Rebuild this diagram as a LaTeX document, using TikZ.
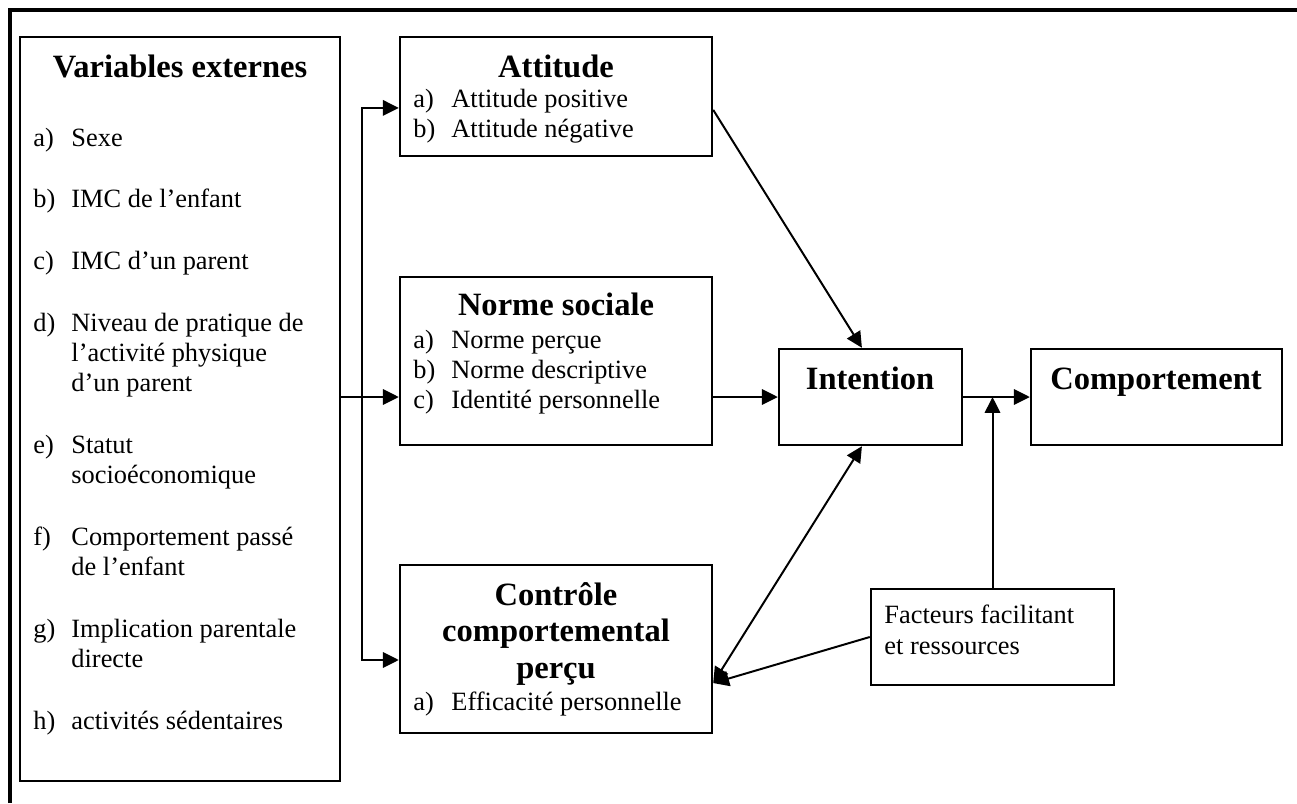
\documentclass[tikz,border=0pt]{standalone}
\usepackage{fontspec}
\setmainfont{Liberation Serif}
\usetikzlibrary{arrows.meta,fit}

\begin{document}
\begin{tikzpicture}[x=0.455pt,y=-0.455pt,
  >={Triangle[length=7.2pt,width=7pt]},
  box/.style={draw,line width=1.1pt,inner sep=0pt},
  ttl/.style={inner sep=0pt,anchor=base,align=center,font=\bfseries\fontsize{14.8}{16.4}\selectfont},
  lst/.style={inner sep=0pt,anchor=base west,font=\fontsize{12}{13.65}\selectfont},
  arr/.style={->,line width=0.9pt}]
\useasboundingbox (0,0) rectangle (1297,803);
\draw[line width=1.8pt] (10,803) -- (10,10) -- (1297,10);

\node[box,fit={(20,37) (340,781)}] (vars) {};
\node[box,fit={(400,37) (712,156)}] (att) {};
\node[box,fit={(400,277) (712,445)}] (norme) {};
\node[box,fit={(400,565) (712,733)}] (ctrl) {};
\node[box,fit={(779,349) (962,445)}] (inten) {};
\node[box,fit={(1031,349) (1282,445)}] (comp) {};
\node[box,fit={(871,589) (1114,685)}] (fact) {};

\node[ttl] (vars-t) at (180,78) {Variables externes};
\node[lst] (vars-l) at (33,146) {\begin{tabular}[t]{@{}p{17.3pt}@{}l@{}}
a) & Sexe\\[14.5pt]
b) & IMC de l’enfant\\[14.5pt]
c) & IMC d’un parent\\[14.5pt]
d) & Niveau de pratique de\\
   & l’activité physique\\
   & d’un parent\\[14.5pt]
e) & Statut\\
   & socioéconomique\\[14.5pt]
f) & Comportement passé\\
   & de l’enfant\\[14.5pt]
g) & Implication parentale\\
   & directe\\[14.5pt]
h) & activités sédentaires
\end{tabular}};

\node[ttl] (att-t) at (556,78) {Attitude};
\node[lst] (att-l) at (413,108) {\begin{tabular}[t]{@{}p{17.3pt}@{}l@{}}
a) & Attitude positive\\
b) & Attitude négative
\end{tabular}};

\node[ttl] (norme-t) at (556,315) {Norme sociale};
\node[lst] (norme-l) at (413,348) {\begin{tabular}[t]{@{}p{17.3pt}@{}l@{}}
a) & Norme perçue\\
b) & Norme descriptive\\
c) & Identité personnelle
\end{tabular}};

\node[ttl] (ctrl-t) at (556,678) {Contrôle\\comportemental\\perçu};
\node[lst] (ctrl-l) at (413,710) {\begin{tabular}[t]{@{}p{17.3pt}@{}l@{}}
a) & Efficacité personnelle
\end{tabular}};

\node[ttl] (inten-t) at (870,389) {Intention};
\node[ttl] (comp-t) at (1156,389) {Comportement};
\node[lst,align=left,font=\fontsize{12}{14}\selectfont] (fact-t) at (884,654) {Facteurs facilitant\\et ressources};

\coordinate (split) at (362,397);
\draw[arr] (vars.east |- inten) -- (norme.west |- inten);
\draw[arr] (split) |- ([yshift=-5.2pt]att.west);
\draw[arr] (split) |- ([yshift=-5pt]ctrl.west);
\draw[arr] ([yshift=-6.1pt]att.east) -- ([xshift=-3.9pt]inten.north);
\draw[arr] (norme.east |- inten) -- (inten.west);
\draw[arr] (inten.east) -- (comp.west);
\draw[arr] (fact.north) -- (fact.north |- inten);
\draw[arr,<->] ([yshift=-15.5pt]ctrl.east) -- ([xshift=-3.9pt]inten.south);
\draw[arr] (fact.west) -- ([yshift=-15.5pt]ctrl.east);
\end{tikzpicture}
\end{document}
